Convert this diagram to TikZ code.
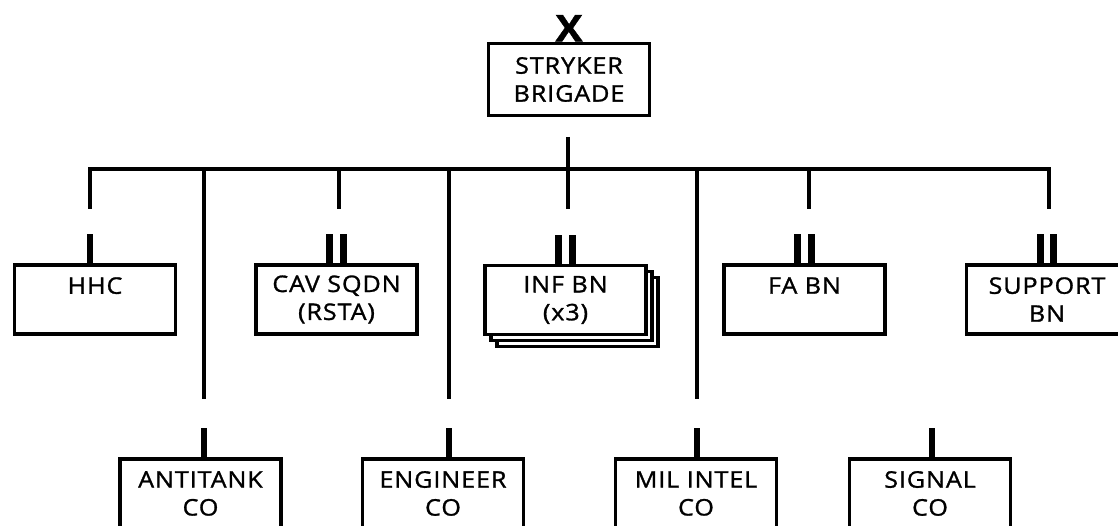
\documentclass[tikz,border=0pt]{standalone}
\usepackage{fontspec}
\setmainfont{Open Sans}[FakeStretch=1.1, LetterSpace=4, FakeBold=1.2]
\usetikzlibrary{shadows}

\newcommand{\unitfont}{\fontsize{13}{15.9}\selectfont}

\tikzset{
  unit/.style = {draw, line width = 0.07cm, fill = white, minimum width = 3.22cm,
                 minimum height = 1.39cm, inner sep = 0pt, align = center, font = \unitfont},
  link/.style = {line width = 0.07cm},
  ech/.style = {line width = 0.135cm},
}

\begin{document}
\begin{tikzpicture}[x = 0.02cm, y = -0.02cm]
    \useasboundingbox (0, 0) rectangle (1118, 526);

    % brigade
    \node[unit, minimum height = 1.44cm] (bde) at (569, 79.5) {STRYKER\\BRIGADE};
    \node[anchor = south, inner sep = 0pt, font = \bfseries\fontsize{21}{21}\selectfont] (bdex) at (bde.north) {X};

    % bus
    \coordinate (trunk) at (568, 137);
    \coordinate (bus) at (568, 169);
    \foreach \n/\x/\y in {d1/90/209, d2/204/399, d3/339/209, d4/449/399,
                          d5/568/209, d6/697/399, d7/809/209, d8/1049/209}
        \coordinate (\n) at (\x, \y);
    \draw[link] (trunk) -- (bus);
    \draw[link] (d1) |- (bus) -| (d8);
    \foreach \n in {d2, d3, d4, d5, d6, d7}
        \draw[link] (\n |- bus) -- (\n);

    % battalions
    \node[unit] (hhc) at (95, 299.5) {HHC\\\mbox{}};
    \node[unit] (cav) at (336.5, 299.5) {CAV SQDN\\(RSTA)};
    \node[unit, copy shadow = {shadow xshift = 0.24cm, shadow yshift = -0.24cm, line width = 0.07cm},
          copy shadow = {shadow xshift = 0.12cm, shadow yshift = -0.12cm, line width = 0.07cm}]
          (inf) at (565.5, 300) {INF BN\\(x3)};
    \node[unit] (fa) at (804.5, 299.5) {FA BN\\\mbox{}};
    \node[unit] (spt) at (1047, 299.5) {SUPPORT\\BN};

    % companies
    \node[unit] (atco) at (200.5, 493.5) {ANTITANK\\CO};
    \node[unit] (engco) at (443, 493.5) {ENGINEER\\CO};
    \node[unit] (mico) at (696, 493.5) {MIL INTEL\\CO};
    \node[unit] (sigco) at (930, 493.5) {SIGNAL\\CO};

    % echelon marks
    \draw[ech] (hhc.north -| d1) -- ++(0, -29);
    \foreach \u/\d in {atco/d2, engco/d4, mico/d6}
        \draw[ech] (\u.north -| \d) -- ++(0, -29);
    \draw[ech] ([xshift = 0.04cm]sigco.north) -- ++(0, -29);
    \foreach \u in {cav, inf, fa, spt}
        \draw[ech] ([xshift = -0.133cm]\u.north) -- ++(0, -29)
                   ([xshift = 0.133cm]\u.north) -- ++(0, -29);
\end{tikzpicture}
\end{document}
